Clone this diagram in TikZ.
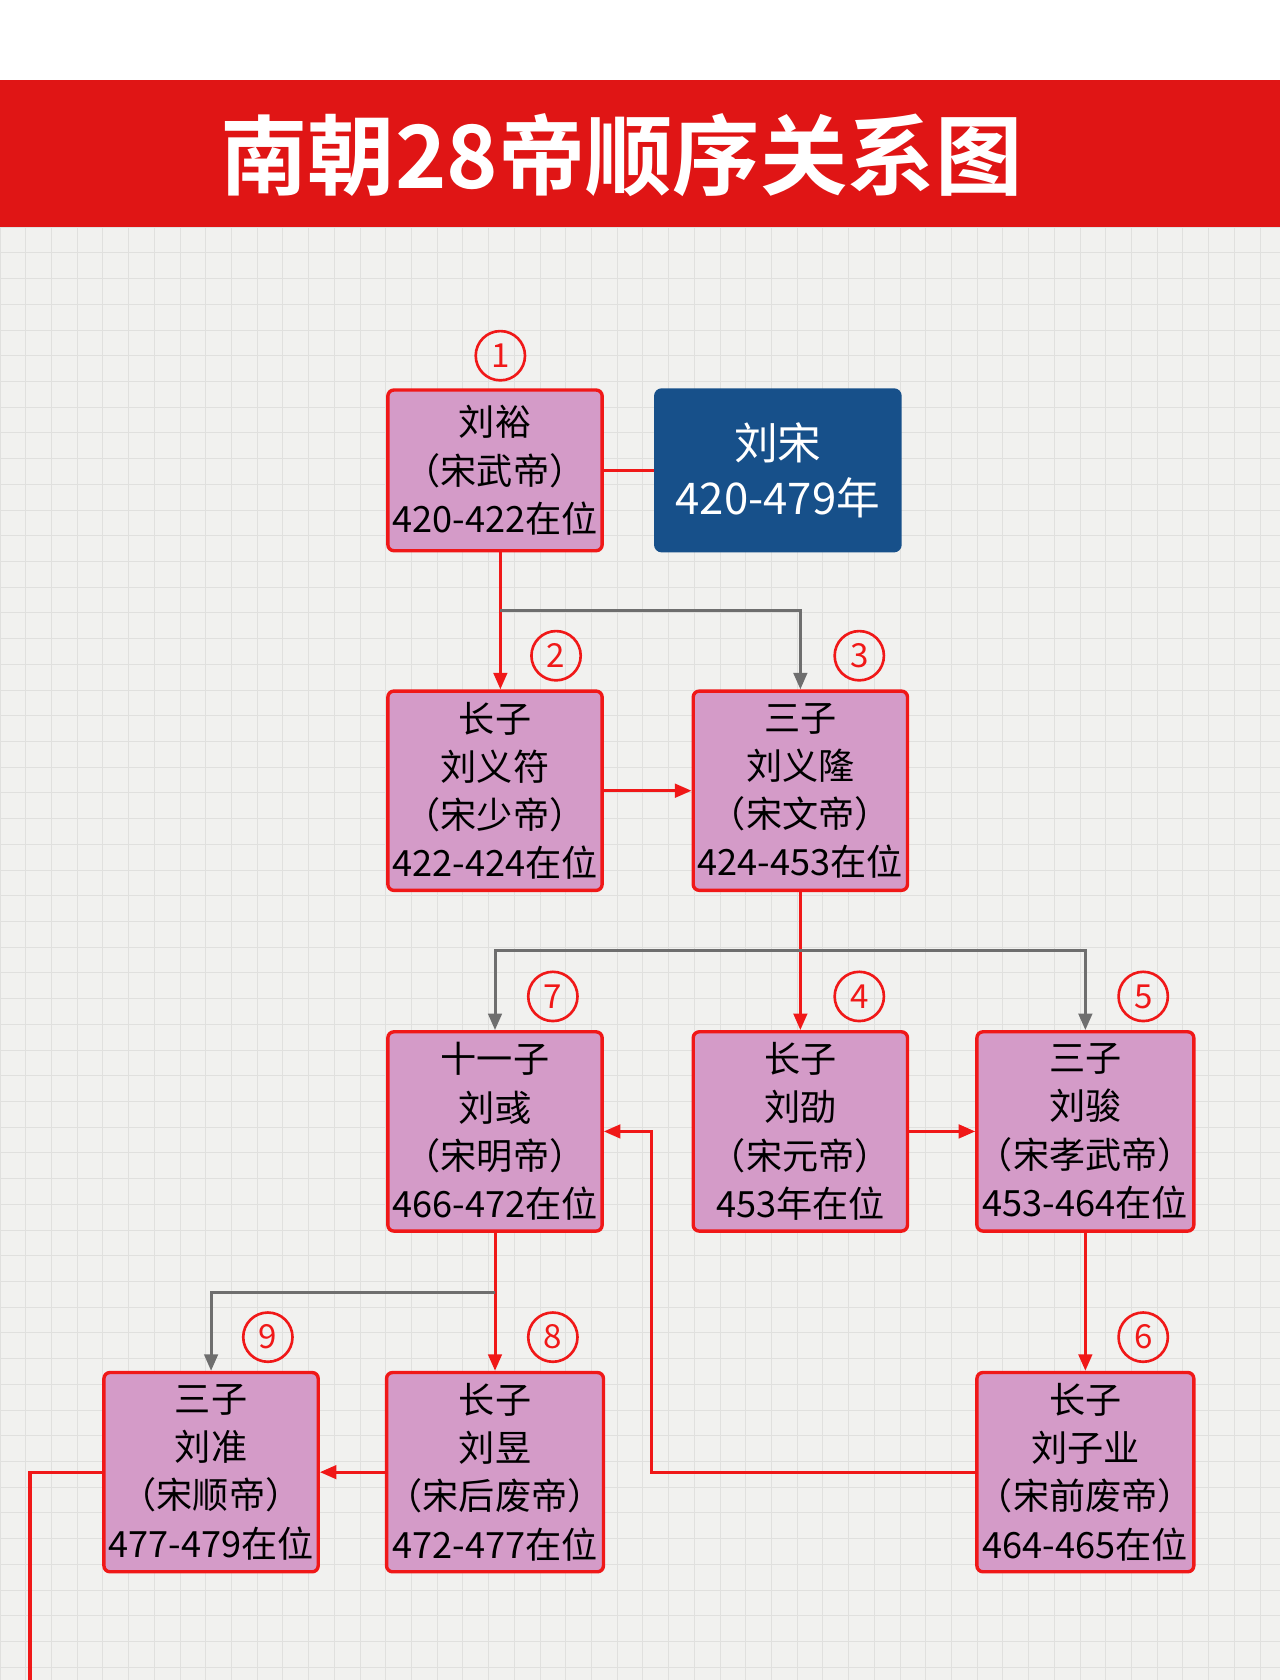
\documentclass[tikz,border=0pt]{standalone}
\usepackage{fontspec}
\setmainfont{Noto Sans CJK SC}
\newfontfamily\titlefont{Noto Sans CJK SC Bold}
\usetikzlibrary{arrows.meta}
\definecolor{hdred}{HTML}{E01515}
\definecolor{boxpink}{HTML}{D49BC8}
\definecolor{boxred}{HTML}{F01818}
\definecolor{songblue}{HTML}{17508A}
\definecolor{bggray}{HTML}{F1F1EF}
\definecolor{gridgray}{HTML}{E0E0DE}
\definecolor{linegray}{HTML}{6E6E6E}
\tikzset{
  emp/.style={draw=boxred, line width=4.5pt, fill=boxpink, rounded corners=8pt,
    minimum width=10cm, minimum height=9.3cm, align=center, inner sep=0pt,
    font=\fontsize{48}{64}\selectfont},
  num/.style={circle, draw=boxred, line width=3.5pt, text=boxred, minimum size=2.3cm,
    inner sep=0pt, font=\fontsize{44}{44}\selectfont},
  red/.style={draw=boxred, line width=4pt},
  redarr/.style={red, -{Triangle[length=22pt,width=18pt]}},
  grayarr/.style={draw=linegray, line width=4pt, -{Triangle[length=22pt,width=18pt]}}
}
\begin{document}
\begin{tikzpicture}[x=0.05cm,y=-0.05cm]
  \useasboundingbox (0,0) rectangle (1195,1568);
  % background
  \fill[white] (0,0) rectangle (1195,75);
  \fill[bggray] (0,212) rectangle (1195,1568);
  \foreach \g in {0,24,...,1195} \draw[gridgray, line width=1.2pt] (\g,212) -- (\g,1568);
  \foreach \g in {212,236,...,1568} \draw[gridgray, line width=1.2pt] (0,\g) -- (1195,\g);
  \fill[hdred] (0,75) rectangle (1195,212);
  \node[text=white, font=\titlefont\fontsize{116}{116}\selectfont] (title) at (580,145) {南朝28帝顺序关系图};
  %emperors
  \node[emp, minimum height=7.5cm] (e1) at (462,439) {刘裕\\（宋武帝）\\420-422在位};
  \node[emp, draw=songblue, fill=songblue, text=white, minimum width=11.4cm, minimum height=7.5cm,
    font=\fontsize{58}{74}\selectfont] (song) at (726,439) {刘宋\\420-479年};
  \node[emp] (e2) at (462,738) {长子\\刘义符\\（宋少帝）\\422-424在位};
  \node[emp] (e3) at (747,738) {三子\\刘义隆\\（宋文帝）\\424-453在位};
  \node[emp] (e7) at (462,1056) {十一子\\刘彧\\（宋明帝）\\466-472在位};
  \node[emp] (e4) at (747,1056) {长子\\刘劭\\（宋元帝）\\453年在位};
  \node[emp] (e5) at (1013,1056) {三子\\刘骏\\（宋孝武帝）\\453-464在位};
  \node[emp] (e9) at (197,1374) {三子\\刘准\\（宋顺帝）\\477-479在位};
  \node[emp] (e8) at (462,1374) {长子\\刘昱\\（宋后废帝）\\472-477在位};
  \node[emp] (e6) at (1013,1374) {长子\\刘子业\\（宋前废帝）\\464-465在位};
  %numbers
  \node[num] (n1) at (467,332) {1};
  \node[num] (n2) at (519,612) {2};
  \node[num] (n3) at (802,612) {3};
  \node[num] (n7) at (516,930) {7};
  \node[num] (n4) at (802,930) {4};
  \node[num] (n5) at (1067,930) {5};
  \node[num] (n9) at (250,1248) {9};
  \node[num] (n8) at (516,1248) {8};
  \node[num] (n6) at (1067,1248) {6};
  %connectors
  \coordinate (b1) at (467,570);
  \coordinate (b3) at (747,887);
  \coordinate (b7) at (462,1206);
  \coordinate (j6) at (608,1374);
  \coordinate (end9) at (28,1568);
  \draw[red] (e1.east) -- (song.west);
  \draw[redarr] (e1.south -| b1) -- (e2.north -| b1);
  \draw[grayarr] (b1) -| (e3.north);
  \draw[redarr] (e2) -- (e3);
  \draw[redarr] (e3) -- (e4);
  \draw[grayarr] (b3) -| (e7.north);
  \draw[grayarr] (b3) -| (e5.north);
  \draw[redarr] (e4) -- (e5);
  \draw[redarr] (e5) -- (e6);
  \draw[redarr] (e6.west) -- (j6) |- (e7.east);
  \draw[redarr] (e7) -- (e8);
  \draw[grayarr] (b7) -| (e9.north);
  \draw[redarr] (e8) -- (e9);
  \draw[red] (e9.west) -| (end9);
\end{tikzpicture}
\end{document}
